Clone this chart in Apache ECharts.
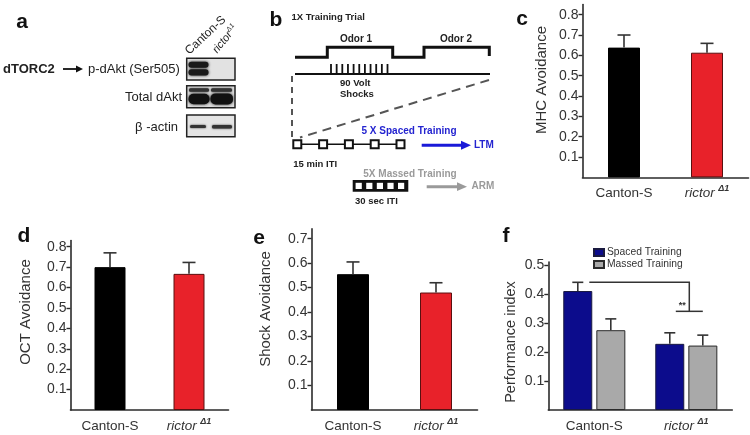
<!DOCTYPE html>
<html><head><meta charset="utf-8">
<script src="https://cdn.jsdelivr.net/npm/echarts@6/dist/echarts.min.js"></script>
<style>html,body{margin:0;padding:0;background:#fff}#c{width:750px;height:435px}</style>
</head><body><div id="c"></div>
<script>
// ---------- data ----------
const categories = ['Canton-S', 'rictor'];
const mhcAvoid = [0.638, 0.613];
const mhcErrTop = [0.700, 0.659];
const mhcTicks = [0.1, 0.2, 0.3, 0.4, 0.5, 0.6, 0.7, 0.8];
const octAvoid = [0.700, 0.667];
const octErrTop = [0.770, 0.723];
const octTicks = [0.1, 0.2, 0.3, 0.4, 0.5, 0.6, 0.7, 0.8];
const shockAvoid = [0.555, 0.480];
const shockErrTop = [0.605, 0.520];
const shockTicks = [0.1, 0.2, 0.3, 0.4, 0.5, 0.6, 0.7];
const spacedPI = [0.410, 0.228];
const spacedErrTop = [0.440, 0.266];
const massedPI = [0.275, 0.222];
const massedErrTop = [0.314, 0.258];
const piTicks = [0.1, 0.2, 0.3, 0.4, 0.5];
const legendNames = ['Spaced Training', 'Massed Training'];
const sigBracket = [0.44, 0.34]; // top line, bottom line
const sigLabel = '**';

// ---------- styling ----------
const FONT = 'Liberation Sans, Arial, sans-serif';
const AX = '#2b2b2b';
const TXT = '#333';

const chart = echarts.init(document.getElementById('c'), null, {renderer: 'canvas'});

const grids = [
  {left: 582.5, top: 4.5, width: 166, height: 172.9},   // c
  {left: 70.5, top: 240.6, width: 158, height: 171.8},  // d
  {left: 311.5, top: 228.9, width: 166, height: 181.3}, // e
  {left: 548.3, top: 262, width: 184, height: 151}      // f
];
const yMax = [0.85, 0.83, 0.74, 0.51];
const yTicks = [mhcTicks, octTicks, shockTicks, piTicks];

function catLabel(v) {
  return v === 'rictor' ? '{i|rictor} {s|Δ1}' : '{n|' + v + '}';
}
const xAxes = grids.map((g, i) => ({
  type: 'category', gridIndex: i, data: categories,
  axisLine: {lineStyle: {color: AX, width: 1.6}},
  axisTick: {show: false},
  axisLabel: {
    interval: 0, hideOverlap: false, margin: 7, formatter: catLabel,
    rich: {
      n: {fontSize: 13.5, fontFamily: FONT, color: TXT, lineHeight: 18},
      i: {fontSize: 13.5, fontFamily: FONT, fontStyle: 'italic', color: TXT, lineHeight: 18},
      s: {fontSize: 9, fontFamily: FONT, fontStyle: 'italic', fontWeight: 'bold', color: TXT, padding: [0, 0, 9, 0], lineHeight: 10}
    }
  }
}));
const yAxes = grids.map((g, i) => ({
  type: 'value', gridIndex: i, min: 0, max: yMax[i],
  splitLine: {show: false},
  axisLine: {show: true, lineStyle: {color: AX, width: 1.6}},
  axisTick: {show: true, length: 4, customValues: yTicks[i], lineStyle: {color: AX, width: 1.4}},
  axisLabel: {customValues: yTicks[i], margin: 4, fontSize: 14, fontFamily: FONT, color: TXT,
    formatter: v => v.toFixed(1)}
}));

function errSeries(gi, vals, tops, offset, cap) {
  return {
    type: 'custom', xAxisIndex: gi, yAxisIndex: gi, z: 5, silent: true,
    data: vals.map((v, i) => [i, v, tops[i]]),
    renderItem: (params, api) => {
      const b = api.coord([api.value(0), api.value(1)]);
      const t = api.coord([api.value(0), api.value(2)]);
      const x = b[0] + offset;
      return {type: 'group', children: [
        {type: 'line', shape: {x1: x, y1: b[1], x2: x, y2: t[1]}, style: {stroke: '#333', lineWidth: 1.6}},
        {type: 'line', shape: {x1: x - cap, y1: t[1], x2: x + cap, y2: t[1]}, style: {stroke: '#333', lineWidth: 1.6}}
      ]};
    }
  };
}
function pairBars(gi, vals, width) {
  return {
    type: 'bar', xAxisIndex: gi, yAxisIndex: gi, barWidth: width,
    data: vals.map((v, i) => ({value: v, itemStyle: {
      color: i === 0 ? '#000' : '#e8222a',
      borderColor: i === 0 ? '#000' : '#5a1010', borderWidth: 1}}))
  };
}

const series = [
  pairBars(0, mhcAvoid, 32), errSeries(0, mhcAvoid, mhcErrTop, 0, 6.5),
  pairBars(1, octAvoid, 31), errSeries(1, octAvoid, octErrTop, 0, 6.5),
  pairBars(2, shockAvoid, 32), errSeries(2, shockAvoid, shockErrTop, 0, 6.5),
  {name: legendNames[0], type: 'bar', xAxisIndex: 3, yAxisIndex: 3, barWidth: 29, barGap: '14%',
   data: spacedPI, itemStyle: {color: '#0c0c8c', borderColor: '#1a1a40', borderWidth: 1}},
  {name: legendNames[1], type: 'bar', xAxisIndex: 3, yAxisIndex: 3, barWidth: 29, barGap: '14%',
   data: massedPI, itemStyle: {color: '#a9a9a9', borderColor: '#2a2a2a', borderWidth: 1}},
  errSeries(3, spacedPI, spacedErrTop, -16.5, 5.5),
  errSeries(3, massedPI, massedErrTop, 16.5, 5.5),
  {
    type: 'custom', xAxisIndex: 3, yAxisIndex: 3, z: 6, silent: true,
    data: [[0, sigBracket[0], 1, sigBracket[1]]],
    renderItem: (params, api) => {
      const a = api.coord([api.value(0), api.value(1)]);
      const b = api.coord([api.value(2), api.value(1)]);
      const c = api.coord([api.value(2), api.value(3)]);
      const xa = a[0] - 5, xb = b[0] + 3;
      return {type: 'group', children: [
        {type: 'polyline', shape: {points: [[xa, a[1]], [xb, b[1]], [xb, c[1]]]}, style: {stroke: '#333', lineWidth: 1.5, fill: null}},
        {type: 'line', shape: {x1: xb - 13.5, y1: c[1], x2: xb + 13.5, y2: c[1]}, style: {stroke: '#333', lineWidth: 1.5}},
        {type: 'text', x: xb - 7, y: c[1] - 1, style: {text: sigLabel, font: 'bold 9px ' + FONT, fill: '#333', align: 'center', verticalAlign: 'bottom'}}
      ]};
    }
  }
];

// ---------- decorative panels a & b + labels ----------
const g = [];
function T(x, y, text, font, fill, align, vAlign, extra) {
  g.push(Object.assign({type: 'text', x: x, y: y, style: {text: text, font: font, fill: fill || TXT,
    textAlign: align || 'left', textVerticalAlign: vAlign || 'middle'}}, extra || {}));
}
function L(pts, stroke, w, dash) {
  g.push({type: 'polyline', shape: {points: pts}, style: {stroke: stroke, lineWidth: w, fill: null, lineDash: dash || null}});
}
function R(x, y, w, h, fill, stroke, lw, r, blur) {
  g.push({type: 'rect', shape: {x: x, y: y, width: w, height: h, r: r || 0},
    style: {fill: fill, stroke: stroke || null, lineWidth: lw || 0, shadowBlur: blur || 0, shadowColor: blur ? fill : null}});
}
// panel letters
const PL = 'bold 21px ' + FONT;
T(22, 22, 'a', PL, '#111', 'center');
T(276, 20, 'b', PL, '#111', 'center');
T(522, 19, 'c', PL, '#111', 'center');
T(24, 236, 'd', PL, '#111', 'center');
T(259, 238, 'e', PL, '#111', 'center');
T(506, 236, 'f', PL, '#111', 'center');
// axis titles
const AT = '15px ' + FONT;
T(542, 80, 'MHC Avoidance', AT, TXT, 'center', 'middle', {rotation: Math.PI / 2});
T(26, 312, 'OCT Avoidance', AT, TXT, 'center', 'middle', {rotation: Math.PI / 2});
T(266, 309, 'Shock Avoidance', AT, TXT, 'center', 'middle', {rotation: Math.PI / 2});
T(511, 342, 'Performance index', '14.5px ' + FONT, TXT, 'center', 'middle', {rotation: Math.PI / 2});

// panel a
T(3, 69, 'dTORC2', 'bold 13px ' + FONT, '#222');
L([[63, 69], [78, 69]], '#111', 1.8);
g.push({type: 'polygon', shape: {points: [[76, 65.5], [83, 69], [76, 72.5]]}, style: {fill: '#111'}});
T(88, 69, 'p-dAkt (Ser505)', '13px ' + FONT, '#222');
T(182, 97, 'Total dAkt', '13px ' + FONT, '#222', 'right');
T(178, 127, 'β -actin', '13px ' + FONT, '#222', 'right');
R(186.7, 58.3, 48.3, 21.7, '#e2e2e2', '#222', 1.5);
R(188.5, 61.8, 20, 6, '#1a1a1a', null, 0, 3, 3);
R(188.5, 69.2, 20, 6.2, '#1a1a1a', null, 0, 3, 3);
R(186.7, 85.7, 48.3, 22, '#dcdcdc', '#222', 1.5);
R(189, 88.3, 20, 3.4, '#333', null, 0, 1.5, 2);
R(211, 88.3, 21, 3.4, '#333', null, 0, 1.5, 2);
R(188.5, 93.8, 21, 10.5, '#111', null, 0, 5, 3);
R(210.5, 93.4, 22.5, 11, '#111', null, 0, 5, 3);
R(186.7, 115, 48.3, 21.7, '#e4e4e4', '#222', 1.5);
R(190, 125, 16, 3, '#333', null, 0, 1.5, 2);
R(212, 125, 20, 3.4, '#333', null, 0, 1.5, 2);
T(191, 57, 'Canton-S', '12px ' + FONT, '#222', 'left', 'bottom', {rotation: 0.75});
g.push({type: 'text', x: 220, y: 56, rotation: 0.9, style: {text: '{i|rictor}{s|Δ1}', textAlign: 'left', textVerticalAlign: 'bottom',
  rich: {i: {font: 'italic 11px ' + FONT, fill: '#222'}, s: {font: 'italic 7px ' + FONT, fill: '#222', padding: [0, 0, 6, 0]}}}});

// panel b
const BF = 'bold 9.5px ' + FONT;
T(291.5, 17.5, '1X Training Trial', BF, '#222');
L([[295, 57.3], [327.3, 57.3], [327.3, 47.3], [392.7, 47.3], [392.7, 57.3], [424, 57.3], [424, 47.3], [489.3, 47.3], [489.3, 56]], '#111', 3);
T(356, 39, 'Odor 1', 'bold 10px ' + FONT, '#222', 'center');
T(456, 39, 'Odor 2', 'bold 10px ' + FONT, '#222', 'center');
L([[295, 74], [490, 74]], '#111', 2);
for (let k = 0; k < 11; k++) { const x = 331 + k * 5.65; L([[x, 64], [x, 74]], '#111', 1.8); }
T(340, 83, '90 Volt', BF, '#222');
T(340, 94.5, 'Shocks', BF, '#222');
L([[292, 76], [292, 138]], '#555', 2, [6, 5]);
L([[489, 80], [300, 137.5]], '#555', 2, [9, 6]);
L([[297.3, 144.3], [400.5, 144.3]], '#111', 1.5);
[297.3, 323.1, 348.9, 374.7, 400.5].forEach(cx => R(cx - 4, 140.3, 8, 8, '#fff', '#111', 2));
T(361.5, 131.5, '5 X Spaced Training', 'bold 10px ' + FONT, '#2424d0');
L([[421.7, 145.3], [463, 145.3]], '#1a1ad8', 3);
g.push({type: 'polygon', shape: {points: [[461, 140.8], [471, 145.3], [461, 149.8]]}, style: {fill: '#1a1ad8'}});
T(474, 145.3, 'LTM', 'bold 10px ' + FONT, '#2424d0');
T(293.3, 164, '15 min ITI', BF, '#222');
T(363.3, 174, '5X Massed Training', 'bold 10px ' + FONT, '#9a9a9a');
R(352.7, 180, 55.6, 11.7, '#111');
for (let k = 0; k < 5; k++) R(355.6 + k * 10.6, 182.8, 6.2, 6.2, '#fff');
T(355, 201, '30 sec ITI', BF, '#222');
L([[426.7, 186.7], [459, 186.7]], '#9a9a9a', 3);
g.push({type: 'polygon', shape: {points: [[457, 182.3], [467, 186.7], [457, 191.1]]}, style: {fill: '#9a9a9a'}});
T(471.5, 186.7, 'ARM', 'bold 10px ' + FONT, '#9a9a9a');

chart.setOption({
  animation: false,
  backgroundColor: '#fff',
  textStyle: {fontFamily: FONT},
  grid: grids,
  xAxis: xAxes,
  yAxis: yAxes,
  legend: {
    data: legendNames, orient: 'vertical', left: 593, top: 247.5, padding: 0,
    itemWidth: 10, itemHeight: 7, itemGap: 2, icon: 'rect',
    textStyle: {fontSize: 10.3, fontFamily: FONT, color: TXT, padding: [0, 0, 0, -2]}
  },
  series: series,
  graphic: g
});
</script></body></html>
